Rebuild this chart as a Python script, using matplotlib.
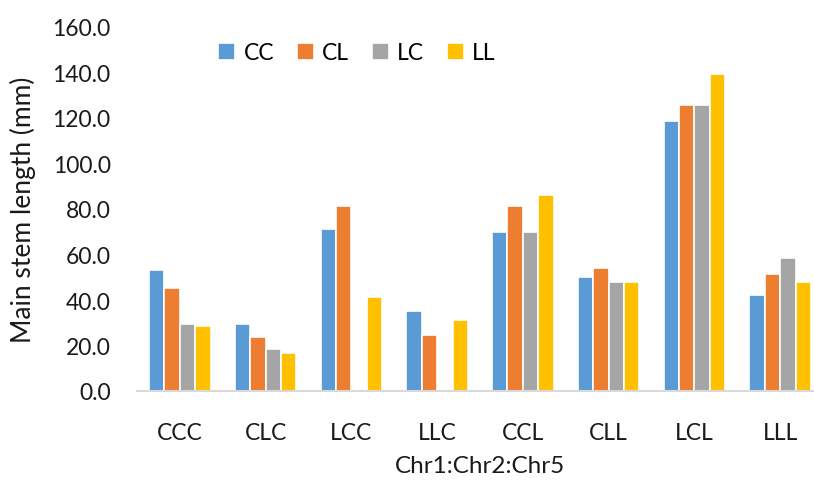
import matplotlib
matplotlib.use("Agg")
import matplotlib.pyplot as plt
import numpy as np

plt.rcParams['font.family'] = ['Lato', 'DejaVu Sans']

categories = ["CCC", "CLC", "LCC", "LLC", "CCL", "CLL", "LCL", "LLL"]
series_names = ["CC", "CL", "LC", "LL"]
cc = [53.0, 29.5, 71.2, 35.0, 70.0, 50.0, 118.5, 42.0]
cl = [45.1, 23.6, 81.5, 24.5, 81.2, 53.9, 125.7, 51.6]
lc = [29.5, 18.5, 0.0, 0.0, 70.0, 48.0, 125.7, 58.5]
ll = [28.6, 16.6, 41.5, 31.1, 86.0, 48.0, 139.2, 48.0]
yticks = [0, 20, 40, 60, 80, 100, 120, 140, 160]

colors = ["#5B9BD5", "#ED7D31", "#A5A5A5", "#FFC000"]
text_color = "#1a1a1a"

fig = plt.figure(figsize=(8.14, 4.81), dpi=100)
ax = fig.add_axes([137 / 814, 1 - 392 / 481, (823 - 137) / 814, (392 - 28) / 481])

x = np.arange(len(categories))
width = 0.18
for i, (name, vals, c) in enumerate(zip(series_names, [cc, cl, lc, ll], colors)):
    ax.bar(x + (i - 1.5) * width, vals, width, color=c, edgecolor="white",
           linewidth=1.2, label=name, zorder=2)

ax.set_xlim(-0.5, len(categories) - 0.5)
ax.set_ylim(0, 160)
ax.set_yticks(yticks)
ax.set_yticklabels([f"{v:.1f}" for v in yticks])
ax.set_xticks(x)
ax.set_xticklabels(categories)
ax.tick_params(axis="both", length=0, labelsize=16.5, colors=text_color)
ax.tick_params(axis="x", pad=22)
ax.tick_params(axis="y", pad=19)

for s in ["top", "right", "left"]:
    ax.spines[s].set_visible(False)
ax.spines["bottom"].set_color("#D9D9D9")
ax.spines["bottom"].set_linewidth(1.5)
ax.spines["bottom"].set_zorder(3)

fig.text(22.5 / 814, 1 - 210 / 481, "Main stem length (mm)", fontsize=19,
         color=text_color, rotation=90, ha="center", va="center")
fig.text(480 / 814, 1 - 467 / 481, "Chr1:Chr2:Chr5", fontsize=17.5,
         color=text_color, ha="center", va="center")

fig.legend(loc="center", bbox_to_anchor=(357 / 814, 1 - 54 / 481), ncol=4,
           frameon=False, fontsize=16.5, handlelength=0.75, handleheight=0.75,
           handletextpad=0.35, columnspacing=1.0)

fig.savefig("out.png", dpi=100)
